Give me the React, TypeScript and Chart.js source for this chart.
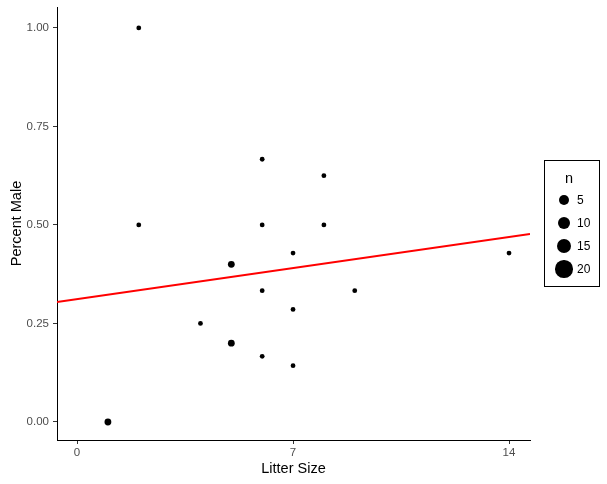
import React, { useEffect, useRef } from "react";
import { Chart, registerables } from "chart.js";

Chart.register(...registerables);

// Data
const litterSize = [1, 2, 2, 4, 5, 5, 6, 6, 6, 6, 7, 7, 7, 8, 8, 9, 14];
const percentMale = [0, 1.0, 0.5, 0.25, 0.4, 0.2, 0.6667, 0.5, 0.3333, 0.1667, 0.4286, 0.2857, 0.1429, 0.625, 0.5, 0.3333, 0.4286];
const nWeight = [2, 1, 1, 1, 2, 2, 1, 1, 1, 1, 1, 1, 1, 1, 1, 1, 1];
const fitX = [-0.65, 14.68];
const fitY = [0.3046, 0.477];
const xTicks = [0, 7, 14];
const yTicks = [0, 0.25, 0.5, 0.75, 1.0];
const legendBreaks = [5, 10, 15, 20];

const FONT = "'Liberation Sans', Arial, sans-serif";
const legendRadius = (n: number) => 3.7 + 0.25 * n;
const pointRadius = (w: number) => 1.4 + w;

export default function App() {
  const ref = useRef<HTMLCanvasElement>(null);
  useEffect(() => {
    if (!ref.current) return;
    const chart = new Chart(ref.current, {
      type: "scatter",
      data: {
        datasets: [
          {
            type: "line",
            data: fitX.map((x, i) => ({ x, y: fitY[i] })),
            borderColor: "#ff0000",
            borderWidth: 2,
            pointRadius: 0,
            fill: false,
          } as any,
          {
            type: "scatter",
            data: litterSize.map((x, i) => ({ x, y: percentMale[i] })),
            backgroundColor: "#000",
            borderColor: "#000",
            borderWidth: 0,
            pointRadius: nWeight.map(pointRadius),
          },
        ],
      },
      options: {
        responsive: false,
        animation: false,
        layout: { padding: { left: 0, top: 7, right: 77, bottom: 0 } },
        plugins: { legend: { display: false }, tooltip: { enabled: false } },
        scales: {
          x: {
            type: "linear",
            min: -0.65,
            max: 14.68,
            afterBuildTicks: (s: any) => {
              s.ticks = xTicks.map((v) => ({ value: v }));
            },
            afterFit: (s: any) => {
              s.height = 44;
              s.paddingLeft = 0;
              s.paddingRight = 0;
            },
            grid: { drawOnChartArea: false, tickLength: 4, color: "#333333" },
            border: { color: "#000", width: 1 },
            ticks: {
              color: "#4d4d4d",
              font: { family: FONT, size: 11.5 },
              padding: 2,
              callback: (v: any) => String(v),
            },
            title: {
              display: true,
              text: "Litter Size",
              color: "#000",
              font: { family: FONT, size: 14.5 },
              padding: { top: 0, bottom: 6 },
            },
          },
          y: {
            type: "linear",
            min: -0.0457,
            max: 1.053,
            afterBuildTicks: (s: any) => {
              s.ticks = yTicks.map((v) => ({ value: v }));
            },
            afterFit: (s: any) => {
              s.width = 57;
              s.paddingTop = 0;
              s.paddingBottom = 0;
            },
            grid: { drawOnChartArea: false, tickLength: 4, color: "#333333" },
            border: { color: "#000", width: 1 },
            ticks: {
              color: "#4d4d4d",
              font: { family: FONT, size: 11.5 },
              padding: 4,
              callback: (v: any) => Number(v).toFixed(2),
            },
            title: {
              display: true,
              text: "Percent Male",
              color: "#000",
              font: { family: FONT, size: 14.5 },
              padding: { top: 8, bottom: 0 },
            },
          },
        },
      },
    });
    return () => chart.destroy();
  }, []);

  return (
    <div style={{ position: "fixed", left: 0, top: 0, width: 607, height: 484, background: "#fff" }}>
      <canvas ref={ref} width={607} height={484} />
      <div
        style={{
          position: "absolute",
          left: 544,
          top: 160,
          width: 56,
          height: 127,
          border: "1px solid #000",
          fontFamily: FONT,
          boxSizing: "border-box",
        }}
      >
        <div style={{ position: "absolute", left: 20, top: 9, fontSize: 14.5, color: "#000" }}>n</div>
        {legendBreaks.map((b, i) => {
          const cy = 39 + i * 23;
          const r = legendRadius(b);
          return (
            <React.Fragment key={b}>
              <div
                style={{
                  position: "absolute",
                  left: 19 - r,
                  top: cy - r,
                  width: 2 * r,
                  height: 2 * r,
                  borderRadius: "50%",
                  background: "#000",
                }}
              />
              <div
                style={{
                  position: "absolute",
                  left: 32,
                  top: cy - 7,
                  fontSize: 12,
                  lineHeight: "14px",
                  color: "#000",
                }}
              >
                {b}
              </div>
            </React.Fragment>
          );
        })}
      </div>
    </div>
  );
}
